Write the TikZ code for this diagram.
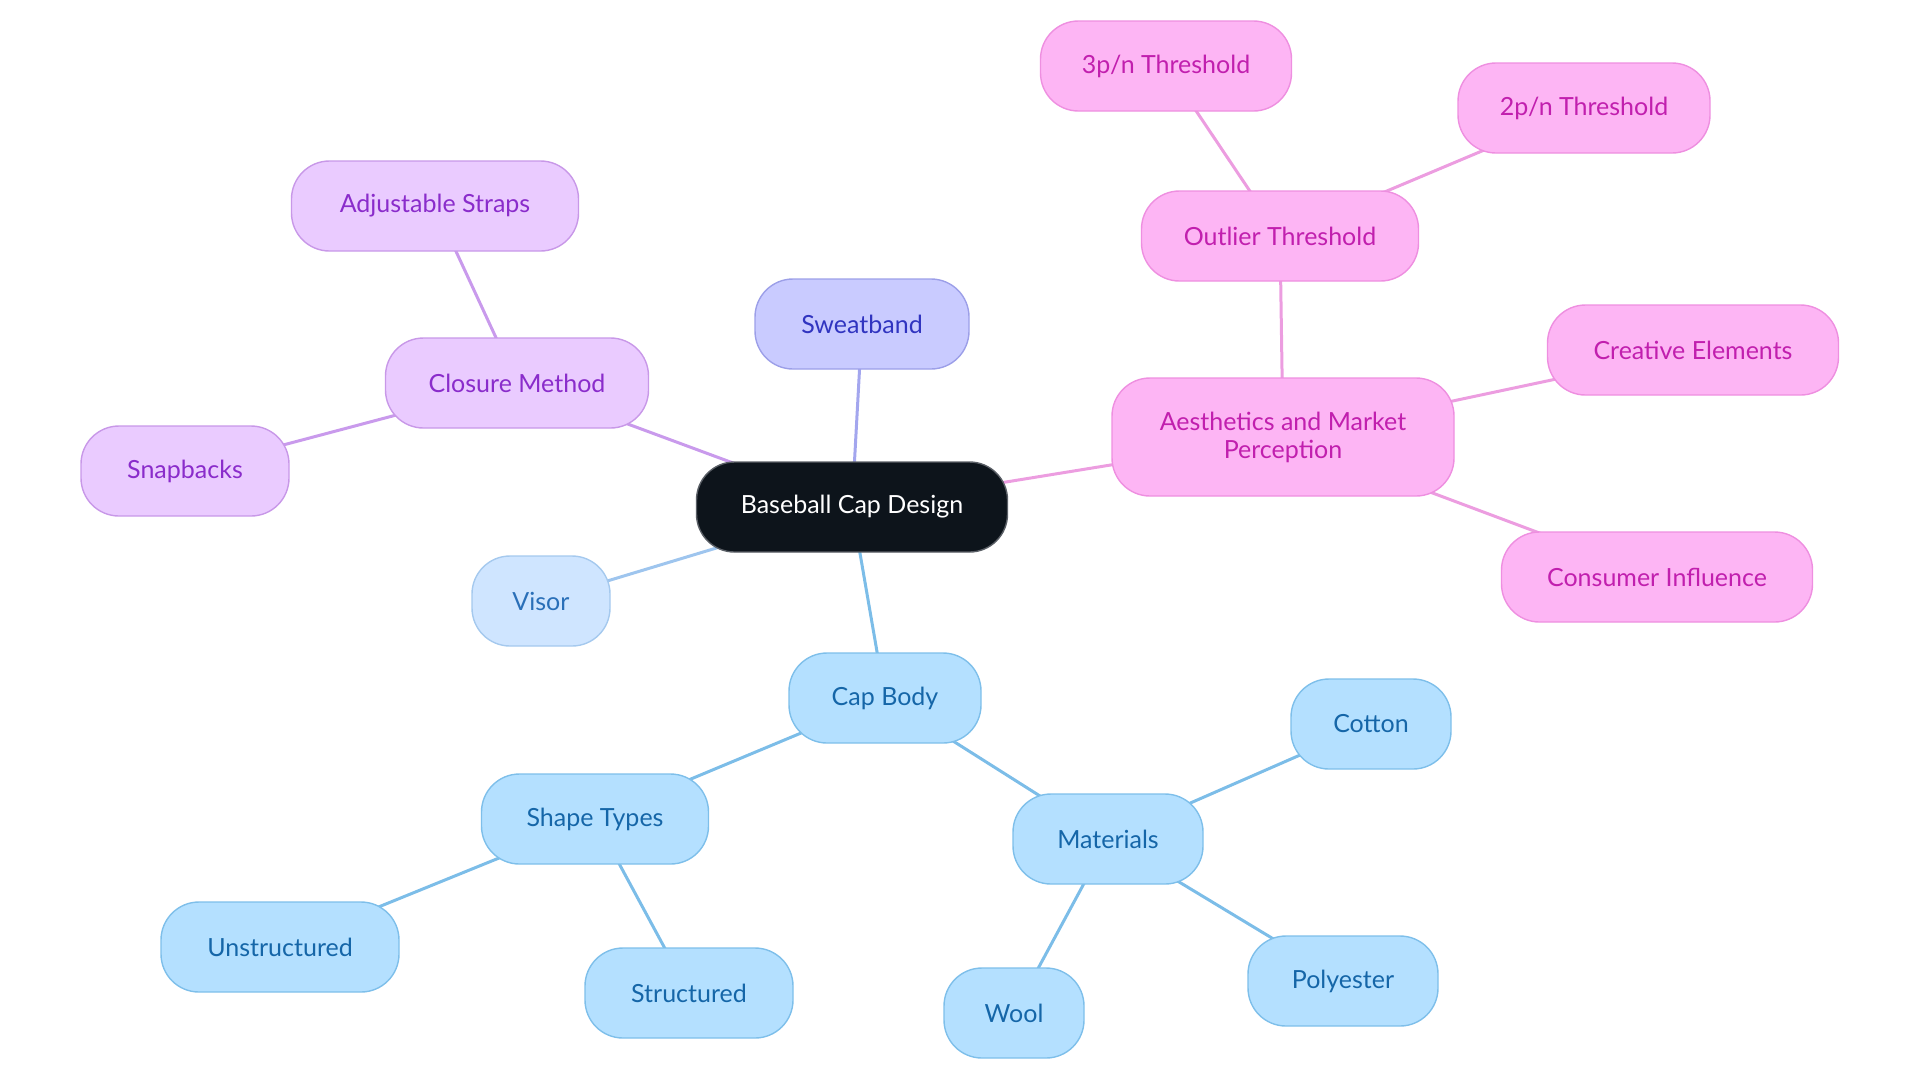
\documentclass[tikz,border=0pt]{standalone}
\usepackage{fontspec}
\setmainfont{Lato}
\usetikzlibrary{backgrounds}
\definecolor{rootfill}{HTML}{0D141B}
\definecolor{rootline}{HTML}{5A5F66}
\definecolor{indfill}{HTML}{C9CBFF}
\definecolor{indline}{HTML}{9C9FE8}
\definecolor{indtext}{HTML}{3034C0}
\definecolor{indedge}{HTML}{A3A6EE}
\definecolor{purfill}{HTML}{EACBFF}
\definecolor{purline}{HTML}{C898E8}
\definecolor{purtext}{HTML}{8A2CCB}
\definecolor{puredge}{HTML}{C99AEC}
\definecolor{pinkfill}{HTML}{FDB5F4}
\definecolor{pinkline}{HTML}{EE8FE0}
\definecolor{pinktext}{HTML}{C11FAE}
\definecolor{pinkedge}{HTML}{EC9DE0}
\definecolor{bluefill}{HTML}{B4E0FF}
\definecolor{blueline}{HTML}{7EBFEA}
\definecolor{bluetext}{HTML}{1566A8}
\definecolor{blueedge}{HTML}{7CBDE8}
\definecolor{skyfill}{HTML}{CFE5FF}
\definecolor{skyline}{HTML}{A5C9EE}
\definecolor{skytext}{HTML}{2A6FB8}
\definecolor{skyedge}{HTML}{9EC5EE}
\tikzset{
  topic/.style = {draw, rounded corners = 19pt, minimum height = 45pt,
                  inner xsep = 4pt, line width = .7pt, align = center,
                  font = \fontsize{12.5pt}{14pt}\selectfont},
  boxw/.style = {minimum width = #1*0.5pt},
  rootbox/.style = {topic, fill = rootfill, draw = rootline, text = white},
  indbox/.style = {topic, fill = indfill, draw = indline, text = indtext},
  purbox/.style = {topic, fill = purfill, draw = purline, text = purtext},
  pinkbox/.style = {topic, fill = pinkfill, draw = pinkline, text = pinktext},
  bluebox/.style = {topic, fill = bluefill, draw = blueline, text = bluetext},
  skybox/.style = {topic, fill = skyfill, draw = skyline, text = skytext},
  link/.style = {line width = 1.5pt}
}
\begin{document}
\begin{tikzpicture}[x = 0.5pt, y = -0.5pt]
      \useasboundingbox (0,0) rectangle (1920,1083);
      \node [rootbox, boxw = 311] (root) at (852,507) {Baseball Cap Design};
      \node [indbox, boxw = 214] (sweat) at (862,324) {Sweatband};
      \node [purbox, boxw = 263] (closure) at (517,383) {Closure Method};
      \node [purbox, boxw = 287] (straps) at (435,206) {Adjustable Straps};
      \node [purbox, boxw = 208] (snap) at (185,471) {Snapbacks};
      \node [skybox, boxw = 138] (visor) at (541,601) {Visor};
      \node [bluebox, boxw = 192] (body) at (885,698) {Cap Body};
      \node [bluebox, boxw = 227] (shape) at (595,819) {Shape Types};
      \node [bluebox, boxw = 238] (unstr) at (280,947) {Unstructured};
      \node [bluebox, boxw = 208] (struct) at (689,993) {Structured};
      \node [bluebox, boxw = 190] (mat) at (1108,839) {Materials};
      \node [bluebox, boxw = 160] (cotton) at (1371,724) {Cotton};
      \node [bluebox, boxw = 190] (poly) at (1343,981) {Polyester};
      \node [bluebox, boxw = 140] (wool) at (1014,1013) {Wool};
      \node [pinkbox, boxw = 342, minimum height = 59pt] (aesth) at (1283,437)
        {Aesthetics and Market\\Perception};
      \node [pinkbox, boxw = 277] (outlier) at (1280,236) {Outlier Threshold};
      \node [pinkbox, boxw = 251] (three) at (1166,66) {3p/n Threshold};
      \node [pinkbox, boxw = 252] (two) at (1584,108) {2p/n Threshold};
      \node [pinkbox, boxw = 291] (creative) at (1693,350) {Creative Elements};
      \node [pinkbox, boxw = 311] (consumer) at (1657,577) {Consumer Influence};
      \begin{scope}[on background layer]
        \draw [link, indedge] (root.center) -- (sweat.center);
        \draw [link, puredge] (root.center) -- (closure.center);
        \draw [link, puredge] (closure.center) -- (straps.center);
        \draw [link, puredge] (closure.center) -- (snap.center);
        \draw [link, skyedge] (root.center) -- (visor.center);
        \draw [link, blueedge] (root.center) -- (body.center);
        \draw [link, blueedge] (body.center) -- (shape.center);
        \draw [link, blueedge] (shape.center) -- (unstr.center);
        \draw [link, blueedge] (shape.center) -- (struct.center);
        \draw [link, blueedge] (body.center) -- (mat.center);
        \draw [link, blueedge] (mat.center) -- (cotton.center);
        \draw [link, blueedge] (mat.center) -- (poly.center);
        \draw [link, blueedge] (mat.center) -- (wool.center);
        \draw [link, pinkedge] (root.center) -- (aesth.center);
        \draw [link, pinkedge] (aesth.center) -- (outlier.center);
        \draw [link, pinkedge] (outlier.center) -- (three.center);
        \draw [link, pinkedge] (outlier.center) -- (two.center);
        \draw [link, pinkedge] (aesth.center) -- (creative.center);
        \draw [link, pinkedge] (aesth.center) -- (consumer.center);
      \end{scope}
    \end{tikzpicture}
\end{document}
